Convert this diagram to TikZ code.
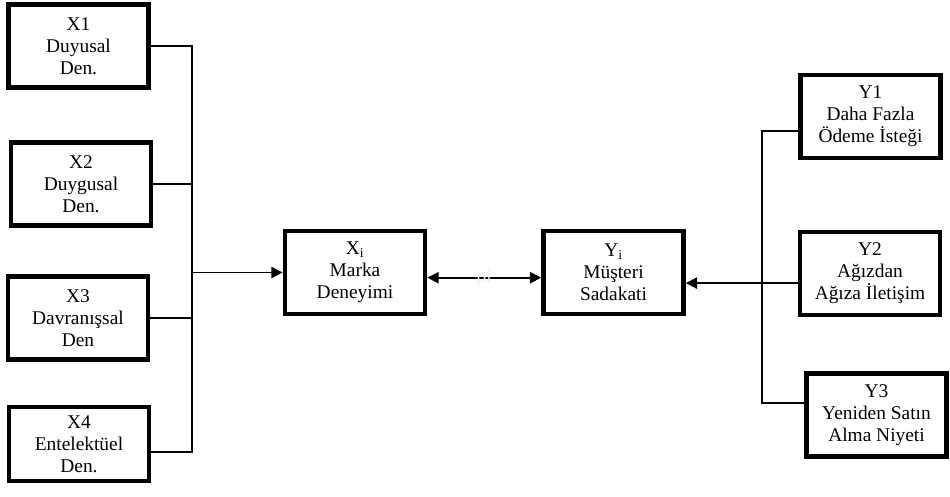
\documentclass[tikz,border=0pt]{standalone}
\usepackage{fontspec}
\setmainfont{Liberation Serif}
\usetikzlibrary{arrows.meta,positioning}

\begin{document}
\begin{tikzpicture}[
  x=0.025cm, y=-0.025cm,
  font=\fontsize{13.8}{15.6}\selectfont,
  var/.style={draw, minimum width=3.5cm, minimum height=2.08cm, align=center, line width=3.3pt, inner sep=1pt},
  link/.style={line width=1.2pt},
  arr/.style={link, -{Triangle[length=2.8mm, width=2.8mm]}},
  darr/.style={link, {Triangle[length=2.8mm, width=2.8mm]}-{Triangle[length=2.8mm, width=2.8mm]}}
]
\useasboundingbox (0,0) rectangle (950,496);
% sol taraf: deneyim boyutlari
\node[var] (x1) at (78.5,46) {X1\\Duyusal\\Den.};
\node[var] (x2) at (81,184) {X2\\Duygusal\\Den.};
\node[var] (x3) at (78,318) {X3\\Davranışsal\\Den};
\node[var, minimum height=1.85cm] (x4) at (79,444) {X4\\Entelektüel\\Den.};
% orta
\node[var] (xi) at (355,272.5) {X\textsubscript{i}\\Marka\\Deneyimi};
\node[var] (yi) at (613.5,272.5) {Y\textsubscript{i}\\Müşteri\\Sadakati};
% sag taraf: sadakat boyutlari
\node[var] (y1) at (870.5,116.5) {Y1\\Daha Fazla\\Ödeme İsteği};
\node[var] (y2) at (870,273.5) {Y2\\Ağızdan\\Ağıza İletişim};
\node[var] (y3) at (876.5,415) {Y3\\Yeniden Satın\\Alma Niyeti};

\coordinate (lbus) at (192,0);
\coordinate (rbus) at (762,0);

\draw[link] (x1.east) -- (x1.east -| lbus) -- ([yshift=-2mm]x4.east -| lbus) -- ([yshift=-2mm]x4.east);
\draw[link] (x2.east) -- (x2.east -| lbus);
\draw[link] (x3.east) -- (x3.east -| lbus);
\draw[arr] (xi.west -| lbus) -- (xi.west);

\draw[darr] ([yshift=-1.3mm]xi.east) -- ([yshift=-1.3mm]xi.east -| yi.west)
  node[midway, black!7] (rho) {ρi};

\draw[link] ([yshift=-3.6mm]y1.west) -- ([yshift=-3.6mm]y1.west -| rbus) -- ([yshift=3mm]y3.west -| rbus) -- ([yshift=3mm]y3.west);
\draw[arr] ([yshift=-2.4mm]y2.west) -- ([yshift=-2.4mm]y2.west -| yi.east);
\end{tikzpicture}
\end{document}
